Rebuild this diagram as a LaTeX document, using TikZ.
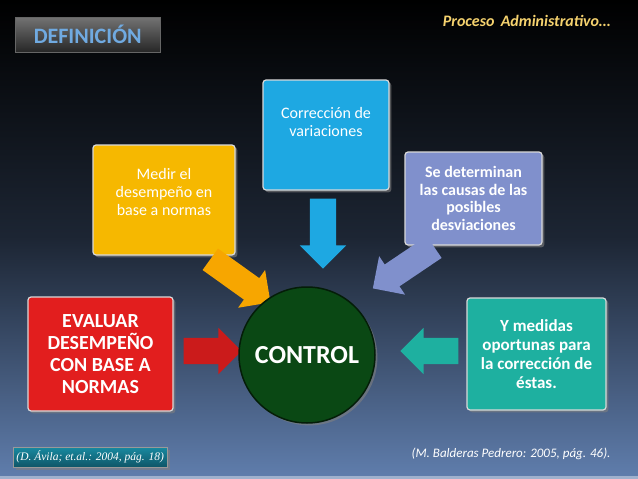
\documentclass[tikz,border=0pt]{standalone}
\usepackage{fontspec}
\setmainfont{Carlito}
\newfontfamily\tnr{Liberation Serif}
\usetikzlibrary{shapes.arrows,shadows}
\definecolor{bgb}{RGB}{95,125,172}
\definecolor{cred}{RGB}{226,30,30}
\definecolor{corg}{RGB}{246,184,0}
\definecolor{cblu}{RGB}{30,168,226}
\definecolor{cslt}{RGB}{128,144,204}
\definecolor{ctea}{RGB}{30,176,160}
\definecolor{cgrn}{RGB}{10,72,20}
\definecolor{ctitle}{RGB}{112,170,225}
\definecolor{cyel}{RGB}{245,210,110}
\tikzset{
 box/.style={draw=white!85!black, line width=1.2pt, rounded corners=3pt, align=center, text=white, font=\fontsize{16}{18}\selectfont, inner sep=2pt, drop shadow={opacity=0.6}},
 arr/.style={single arrow, draw=none, inner xsep=0pt, inner ysep=13pt, single arrow head extend=10pt}
}
\begin{document}
\begin{tikzpicture}[x=1pt,y=-1pt]
\useasboundingbox (0,0) rectangle (638,479);
\shade[top color=black, bottom color=bgb, middle color=black!70!bgb] (0,0) rectangle (638,476);
\fill[bgb!60!white] (0,476) rectangle (638,479);
% title
\node[draw=black!60, minimum width=145pt, minimum height=35pt, inner sep=0pt, anchor=north west,
  top color=black!55, bottom color=black!85, text=ctitle, font=\fontsize{22}{22}\selectfont\bfseries] (title) at (15,17) {DEFINICIÓN};
\node[text=cyel, font=\fontsize{16}{16}\selectfont\bfseries\itshape, anchor=east] (pa) at (614,21) {Proceso\, Administrativo…};
% boxes
\node[box, fill=cred, minimum width=145pt, minimum height=114pt, font=\fontsize{20}{22}\selectfont\bfseries] (ev) at (100.5,354) {EVALUAR\\DESEMPEÑO\\CON BASE A\\NORMAS};
\node[box, fill=corg, minimum width=142pt, minimum height=110pt, text depth=16pt] (me) at (164,200) {Medir el\\desempeño en\\base a normas};
\node[box, fill=cblu, minimum width=126pt, minimum height=110pt, text depth=26pt] (co) at (326,135) {Corrección de\\variaciones};
\node[box, fill=cslt, minimum width=137pt, minimum height=93pt, font=\fontsize{16}{17.5}\selectfont\bfseries] (se) at (473.5,198.5) {Se determinan\\las causas de las\\posibles\\desviaciones};
\node[box, fill=ctea, minimum width=139pt, minimum height=112pt, font=\fontsize{17}{19}\selectfont\bfseries] (ym) at (536.5,354) {Y medidas\\oportunas para\\la corrección de\\éstas.};
% arrows
\node[arr, fill=cred!90!black, minimum height=58pt] (a1) at (206,351) {};
\node[arr, fill=corg!90!red, minimum height=74pt, rotate=-35.6] (a2) at (235,277) {};
\node[arr, fill=cblu, minimum height=70pt, rotate=-90] (a3) at (323,227) {};
\node[arr, fill=cslt, minimum height=74pt, rotate=-146] (a4) at (409,264) {};
\node[arr, fill=ctea, minimum height=58pt, rotate=180] (a5) at (436,351) {};
% circle
\node[circle, draw=black!60!cgrn, line width=1.5pt, fill=cgrn, minimum size=136pt, inner sep=0pt, text=white,
  font=\fontsize{26}{26}\selectfont\bfseries, drop shadow={opacity=0.6}] (ct) at (307,355) {CONTROL};
% bottom
\node[draw=black!40, top color=ctea!40!cblu!80!black, bottom color=ctea!30!cblu!50!black, minimum width=154pt, minimum height=20pt, inner sep=0pt,
  anchor=north west, text=white, font=\tnr\fontsize{11.5}{11.5}\selectfont\itshape, drop shadow={opacity=0.6}] (ref1) at (13,447) {(D. Ávila; et.al.: 2004, pág. 18)};
\node[text=white, font=\fontsize{13}{13}\selectfont\itshape, anchor=east] (ref2) at (614,454) {(M. Balderas Pedrero: 2005, pág. 46).};
\end{tikzpicture}
\end{document}
